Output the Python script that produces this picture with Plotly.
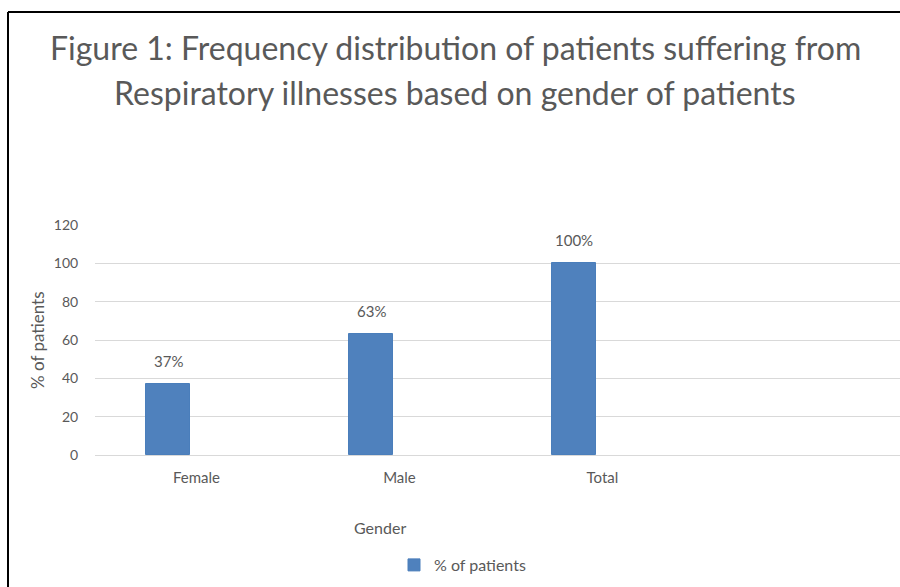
import plotly.graph_objects as go

categories = ["Female", "Male", "Total"]
values = [37, 63, 100]
value_labels = ["37%", "63%", "100%"]
y_ticks = [0, 20, 40, 60, 80, 100, 120]
series_name = "% of patients"
title_lines = ["Figure 1: Frequency distribution of patients suffering from",
               "Respiratory illnesses based on gender of patients"]

W, H = 900, 587
L, R, T, B = 95, 0, 225, 132
PW, PH = W - L - R, H - T - B

def px_x(x):
    return (x - L) / PW

def px_y(y):
    return (H - B - y) / PH

GRAY = "#595959"
FONT = "Lato"
BAR_W = 0.22
BAR_OFF = -0.25

fig = go.Figure()
fig.add_trace(go.Bar(
    x=categories, y=values, name=series_name,
    marker=dict(color="#4f81bd", line=dict(color="#4a7ebb", width=1)),
    width=BAR_W, offset=BAR_OFF, showlegend=True,
))

annotations = []
for i, (v, lab) in enumerate(zip(values, value_labels)):
    annotations.append(dict(
        x=i + BAR_OFF + BAR_W / 2, y=v, xref="x", yref="y", text=lab,
        showarrow=False, yanchor="bottom", yshift=12,
        font=dict(family=FONT, size=15, color=GRAY)))

annotations.append(dict(x=px_x(455), y=px_y(47), xref="paper", yref="paper",
                        text=title_lines[0], showarrow=False, xanchor="center", yanchor="middle",
                        font=dict(family=FONT, size=32, color=GRAY)))
annotations.append(dict(x=px_x(455), y=px_y(92), xref="paper", yref="paper",
                        text=title_lines[1], showarrow=False, xanchor="center", yanchor="middle",
                        font=dict(family=FONT, size=32, color=GRAY)))
annotations.append(dict(x=px_x(37), y=0.5, xref="paper", yref="paper",
                        text="% of patients", textangle=-90, showarrow=False,
                        xanchor="center", yanchor="middle",
                        font=dict(family=FONT, size=17, color=GRAY)))
annotations.append(dict(x=px_x(380), y=px_y(527), xref="paper", yref="paper",
                        text="Gender", showarrow=False, xanchor="center", yanchor="middle",
                        font=dict(family=FONT, size=16, color=GRAY)))

shapes = [
    dict(type="line", xref="paper", yref="paper", x0=px_x(8), x1=px_x(8),
         y0=px_y(12), y1=px_y(600), line=dict(color="black", width=2)),
    dict(type="line", xref="paper", yref="paper", x0=px_x(8), x1=px_x(910),
         y0=px_y(12), y1=px_y(12), line=dict(color="black", width=2)),
]

fig.update_layout(
    width=W, height=H,
    margin=dict(l=L, r=R, t=T, b=B, pad=0),
    paper_bgcolor="white", plot_bgcolor="white",
    font=dict(family=FONT, color=GRAY, size=14),
    bargap=0,
    annotations=annotations,
    shapes=shapes,
    legend=dict(orientation="h", x=px_x(394), y=px_y(565), xanchor="left", yanchor="middle",
                font=dict(family=FONT, size=16, color=GRAY), itemwidth=30,
                bgcolor="rgba(0,0,0,0)"),
    xaxis=dict(type="category", range=[-0.5, 3.466], showgrid=False, zeroline=False,
               showline=False, ticks="outside", ticklen=9, tickcolor="rgba(0,0,0,0)",
               tickfont=dict(family=FONT, size=15, color=GRAY), fixedrange=True),
    yaxis=dict(range=[0, 120], tickvals=y_ticks, showgrid=True, gridcolor="#d9d9d9",
               gridwidth=1, zeroline=True, zerolinecolor="#d9d9d9", zerolinewidth=1,
               showline=False, ticks="outside", ticklen=13, tickcolor="rgba(0,0,0,0)",
               tickfont=dict(family=FONT, size=14, color=GRAY), fixedrange=True),
)

fig.write_html("out.html", config={"displayModeBar": False},
               post_script="document.body.style.margin='0px';document.body.style.overflow='hidden';")
